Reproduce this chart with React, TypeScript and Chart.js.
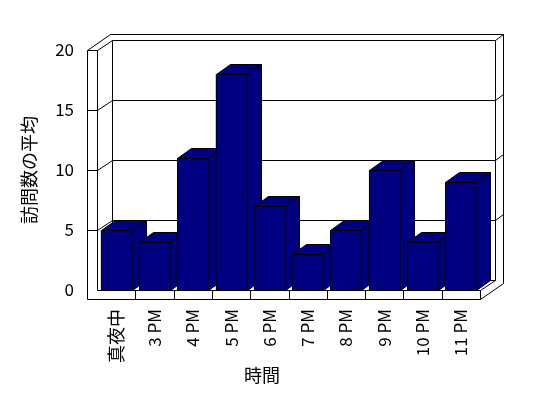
import React, { useEffect, useRef } from "react";
import { Chart, registerables } from "chart.js";

Chart.register(...registerables);

const categories = ["真夜中", "3 PM", "4 PM", "5 PM", "6 PM", "7 PM", "8 PM", "9 PM", "10 PM", "11 PM"];
const visits = [5, 4, 11, 18, 7, 3, 5, 10, 4, 9];
const yTickValues = [0, 5, 10, 15, 20];
const yTitle = "訪問数の平均";
const xTitle = "時間";

const NAVY = "#000080";
const FONT = '"Noto Sans CJK JP", "Noto Sans", sans-serif';

// 3D projection parameters (pixels)
const DEPTH_X = 15;
const DEPTH_Y = -10;
const BAR_DX = 14;
const BAR_DY = -10;
const WALL_T = 10;
const FLOOR_T = 9;
const BACK_X = 8;
const BACK_Y = -6;

const h = (v: number) => Math.round(v) + 0.5;

function path(ctx: CanvasRenderingContext2D, pts: number[][], close = false) {
  ctx.beginPath();
  pts.forEach((p, i) => (i === 0 ? ctx.moveTo(h(p[0]), h(p[1])) : ctx.lineTo(h(p[0]), h(p[1]))));
  if (close) ctx.closePath();
}

const frame3d = {
  id: "frame3d",
  beforeDatasetsDraw(chart: any) {
    const { ctx, chartArea: a, scales } = chart;
    const ys = scales.y;
    const xs = scales.x;
    const l = Math.round(a.left);
    const r = Math.round(a.right);
    const t = Math.round(ys.getPixelForValue(yTickValues[yTickValues.length - 1]));
    const b = Math.round(ys.getPixelForValue(0));
    const wl = l - WALL_T;
    const fb = b + FLOOR_T;
    const ox = DEPTH_X + BACK_X;
    const oy = DEPTH_Y + BACK_Y;

    ctx.save();
    ctx.lineWidth = 1;
    ctx.strokeStyle = "#000";
    ctx.fillStyle = "#fff";

    path(ctx, [[wl, t], [wl + ox, t + oy], [r + ox, t + oy], [r + ox, fb + oy], [r, fb], [wl, fb]], true);
    ctx.fill();
    ctx.stroke();

    path(ctx, [[wl, t], [l, t], [l, b], [r, b], [r, fb]]);
    ctx.stroke();

    path(ctx, [[l, t], [l + DEPTH_X, t + DEPTH_Y], [r + DEPTH_X, t + DEPTH_Y], [r + ox, t + oy]]);
    ctx.stroke();

    path(ctx, [[l + DEPTH_X, t + DEPTH_Y], [l + DEPTH_X, b + DEPTH_Y], [r + DEPTH_X, b + DEPTH_Y], [r + DEPTH_X, t + DEPTH_Y]]);
    ctx.stroke();

    path(ctx, [[r, b], [r + DEPTH_X, b + DEPTH_Y]]);
    ctx.stroke();

    yTickValues.forEach((v) => {
      if (v === 0 || v === yTickValues[yTickValues.length - 1]) return;
      const y = Math.round(ys.getPixelForValue(v));
      path(ctx, [[wl, y], [l, y], [l + DEPTH_X, y + DEPTH_Y], [r + DEPTH_X, y + DEPTH_Y], [r + ox, y + oy]]);
      ctx.stroke();
    });

    for (let i = 1; i < categories.length; i++) {
      const xb = (xs.getPixelForValue(i - 1) + xs.getPixelForValue(i)) / 2;
      path(ctx, [[xb, b], [xb, fb]]);
      ctx.stroke();
    }

    // bar tops and sides
    const meta = chart.getDatasetMeta(0);
    ctx.fillStyle = NAVY;
    meta.data.forEach((el: any) => {
      const left = el.x - el.width / 2;
      const right = el.x + el.width / 2;
      const top = el.y;
      const base = el.base;
      path(ctx, [[left, top], [right, top], [right + BAR_DX, top + BAR_DY], [left + BAR_DX, top + BAR_DY]], true);
      ctx.fill();
      ctx.stroke();
      path(ctx, [[right, top], [right + BAR_DX, top + BAR_DY], [right + BAR_DX, base + BAR_DY], [right, base]], true);
      ctx.fill();
      ctx.stroke();
    });
    ctx.restore();
  },
  afterDatasetsDraw(chart: any) {
    // crisp outlines on bar fronts
    const { ctx } = chart;
    const meta = chart.getDatasetMeta(0);
    ctx.save();
    ctx.lineWidth = 1;
    ctx.strokeStyle = "#000";
    ctx.fillStyle = NAVY;
    meta.data.forEach((el: any) => {
      const left = el.x - el.width / 2;
      const right = el.x + el.width / 2;
      path(ctx, [[left, el.y], [right, el.y], [right, el.base], [left, el.base]], true);
      ctx.fill();
      ctx.stroke();
    });
    ctx.restore();
  },
  afterDraw(chart: any) {
    const { ctx } = chart;
    ctx.save();
    ctx.fillStyle = "#000";
    ctx.font = `18px ${FONT}`;
    ctx.textAlign = "center";
    ctx.textBaseline = "middle";
    ctx.fillText(xTitle, chart.width / 2 - 12, 375);
    ctx.restore();
  },
};

export default function App() {
  const ref = useRef<HTMLCanvasElement>(null);
  useEffect(() => {
    if (!ref.current) return;
    const chart = new Chart(ref.current, {
      type: "bar",
      data: {
        labels: categories,
        datasets: [
          {
            data: visits,
            backgroundColor: NAVY,
            borderColor: "#000",
            borderWidth: 1,
            barPercentage: 0.81,
            categoryPercentage: 1,
          },
        ],
      },
      options: {
        responsive: false,
        animation: false,
        devicePixelRatio: 1,
        layout: { padding: { top: 50, right: 68, left: 8, bottom: 0 } },
        plugins: { legend: { display: false }, tooltip: { enabled: false } },
        scales: {
          x: {
            grid: { display: false, drawTicks: false },
            border: { display: false },
            ticks: {
              autoSkip: false,
              minRotation: 90,
              maxRotation: 90,
              padding: 19,
              color: "#000",
              font: (c: any) => {
                const lab = c.tick && c.tick.label ? String(c.tick.label) : "";
                return { family: FONT, size: /[^\x00-\x7f]/.test(lab) ? 18 : 17 };
              },
            },
            afterFit: (s: any) => {
              s.height = 108;
            },
          },
          y: {
            min: 0,
            max: 20,
            grid: { display: false, drawTicks: false },
            border: { display: false },
            ticks: {
              stepSize: 5,
              padding: 23,
              color: "#000",
              font: { family: FONT, size: 17 },
            },
            title: {
              display: true,
              text: yTitle,
              color: "#000",
              font: { family: FONT, size: 18 },
              padding: { top: 10, bottom: 0 },
            },
            afterFit: (s: any) => {
              s.width = 89;
            },
          },
        },
      },
      plugins: [frame3d],
    });
    return () => chart.destroy();
  }, []);
  return (
    <div style={{ position: "fixed", left: 0, top: 0, width: 548, height: 398, background: "#fff" }}>
      <canvas ref={ref} width={548} height={398} style={{ display: "block" }} />
    </div>
  );
}
